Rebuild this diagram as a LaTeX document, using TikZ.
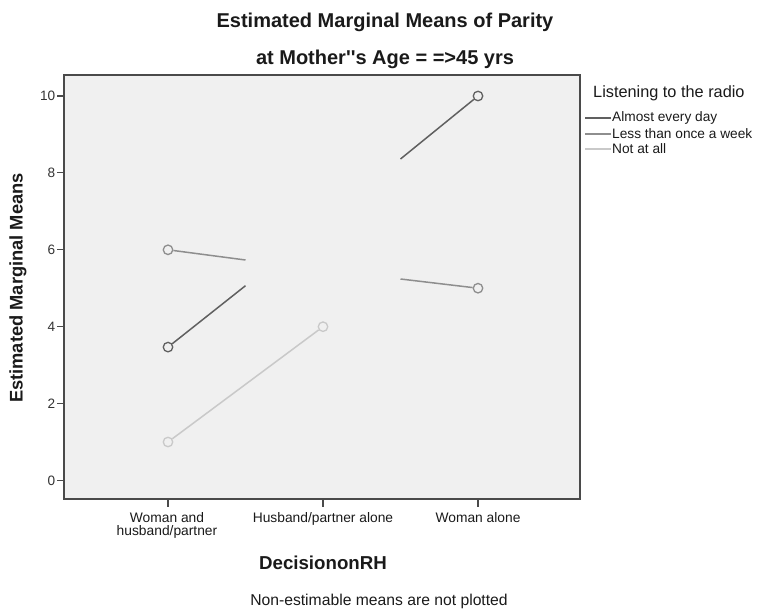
\documentclass[tikz,border=0pt]{standalone}
\usepackage{fontspec}
\newfontfamily\arialf{Liberation Sans}
\newcommand\pxsize[1]{\fontsize{#1}{#1}\selectfont}
\definecolor{serA}{HTML}{606060}
\definecolor{serB}{HTML}{8E8E8E}
\definecolor{serC}{HTML}{C9C9C9}
\definecolor{frameC}{HTML}{4A4A4A}
\definecolor{plotbg}{HTML}{F0F0F0}
\definecolor{txt}{HTML}{1A1A1A}
\begin{document}
\begin{tikzpicture}[x=1pt,y=-1pt,
  every node/.style={font=\arialf, inner sep=0pt, text=txt},
  mk/.style={circle, draw=#1, line width=1.3pt, minimum size=9.5pt, fill=none},
  series/.style={draw=#1, line width=1.5pt},
  tick/.style={draw=frameC, line width=1.2pt},
  ticklab/.style={font=\arialf\pxsize{13.6}, text=black!80},
  catlab/.style={font=\arialf\pxsize{13.8}, align=center},
  leglab/.style={font=\arialf\pxsize{13.7}, anchor=west},
]
\useasboundingbox (0,0) rectangle (757,609);

% titles
\node[font=\arialf\bfseries\pxsize{20}] (title) at (385,22) {Estimated Marginal Means of Parity};
\node[font=\arialf\bfseries\pxsize{20}] (subtitle) at (385,59) {at Mother''s Age = =>45 yrs};

% plot area
\draw[frameC, line width=1.5pt, fill=plotbg] (64,75) rectangle (580,499);

% y axis ticks and labels
\foreach \v/\yy in {0/480.5,2/403.6,4/326.7,6/249.8,8/172.9,10/96} {
  \draw[tick] (57,\yy) -- (64,\yy);
  \node[ticklab, anchor=east] at (55.5,\yy) {\v};
}
\node[font=\arialf\bfseries\pxsize{18.3}, rotate=90] (ylab) at (18,288) {Estimated Marginal Means};

% x axis ticks and labels
\foreach \xx in {168,323,478} {
  \draw[tick] (\xx,499) -- (\xx,507);
}
\node[catlab, anchor=north] (xc1) at (167,512) {Woman and\\[-1pt]husband/partner};
\node[catlab, anchor=north] (xc2) at (323,512) {Husband/partner alone};
\node[catlab, anchor=north] (xc3) at (478,512) {Woman alone};
\node[font=\arialf\bfseries\pxsize{18.7}] (xlab) at (323,563) {DecisiononRH};
\node[font=\arialf\pxsize{15.7}] (note) at (379,601) {Non-estimable means are not plotted};

% data points
\node[mk=serA] (a1) at (168,347.1) {};
\node[mk=serA] (a3) at (478,96) {};
\node[mk=serB] (b1) at (168,249.8) {};
\node[mk=serB] (b3) at (478,288.2) {};
\node[mk=serC] (c1) at (168,442) {};
\node[mk=serC] (c2) at (323,326.7) {};

% half segments toward the non-estimable middle category
\coordinate (a12) at (245.5,285.7);
\coordinate (a23) at (400.5,159);
\coordinate (b12) at (245.5,260);
\coordinate (b23) at (400.5,279);

\draw[series=serC] (c1) -- (c2);
\draw[series=serB] (b1) -- (b12);
\draw[series=serB] (b23) -- (b3);
\draw[series=serA] (a1) -- (a12);
\draw[series=serA] (a23) -- (a3);

% legend
\node[font=\arialf\pxsize{16.3}, anchor=west] (legtitle) at (593,93) {Listening to the radio};
\coordinate (la0) at (585,118); \coordinate (la1) at (611,118);
\coordinate (lb0) at (585,134); \coordinate (lb1) at (611,134);
\coordinate (lc0) at (585,149); \coordinate (lc1) at (611,149);
\draw[series=serA] (la0) -- (la1);
\draw[series=serB] (lb0) -- (lb1);
\draw[series=serC] (lc0) -- (lc1);
\node[leglab] (lega) at (612,118) {Almost every day};
\node[leglab] (legb) at (612,134) {Less than once a week};
\node[leglab] (legc) at (612,149) {Not at all};
\end{tikzpicture}
\end{document}
